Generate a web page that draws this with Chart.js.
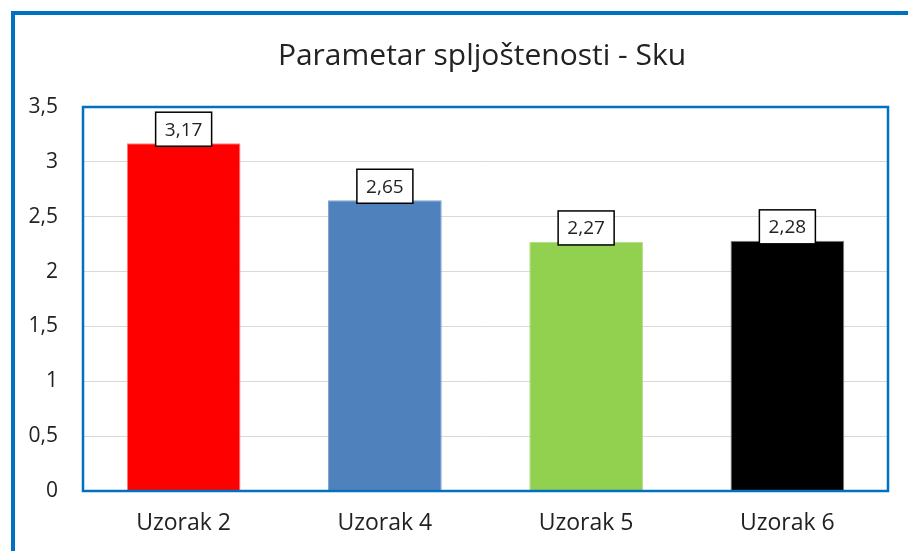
<!DOCTYPE html>
<html>
<head>
<meta charset="utf-8">
<script src="https://cdn.jsdelivr.net/npm/chart.js@4/dist/chart.umd.min.js"></script>
<style>
html,body{margin:0;padding:0;background:#fff;}
#wrap{width:908px;height:551px;position:relative;}
</style>
</head>
<body>
<div id="wrap"><canvas id="c" width="908" height="551"></canvas></div>
<script>
const titleText = 'Parametar spljoštenosti - Sku';
const categories = ['Uzorak 2', 'Uzorak 4', 'Uzorak 5', 'Uzorak 6'];
const values = [3.17, 2.65, 2.27, 2.28];
const barColors = ['#FF0000', '#4F81BD', '#92D050', '#000000'];
const barEdges = ['#FF8080', '#7FA3D1', '#B5DE8A', '#7F7F7F'];
const yTicks = [0, 0.5, 1, 1.5, 2, 2.5, 3, 3.5];

const FONT = "'Open Sans', 'Noto Sans', sans-serif";
const fmt = v => String(v).replace('.', ',');

const framePlugin = {
  id: 'frames',
  beforeDraw(chart) {
    const ctx = chart.ctx;
    ctx.save();
    ctx.fillStyle = '#fff';
    ctx.fillRect(0, 0, chart.width, chart.height);
    ctx.strokeStyle = '#0070C0';
    ctx.lineWidth = 4;
    ctx.strokeRect(13, 13, 1000, 1000);
    // title
    ctx.fillStyle = '#222';
    ctx.font = "30px " + FONT;
    ctx.textAlign = 'center';
    ctx.textBaseline = 'middle';
    ctx.fillText(titleText, 482, 56);
    ctx.restore();
  },
  afterDatasetsDraw(chart) {
    const ctx = chart.ctx;
    const a = chart.chartArea;
    ctx.save();
    ctx.strokeStyle = '#0070C0';
    ctx.lineWidth = 2.5;
    ctx.strokeRect(a.left, a.top, a.right - a.left, a.bottom - a.top);
    // data labels
    const meta = chart.getDatasetMeta(0);
    ctx.font = "19px " + FONT;
    ctx.textAlign = 'center';
    ctx.textBaseline = 'middle';
    meta.data.forEach((el, i) => {
      const txt = fmt(chart.data.datasets[0].data[i]);
      const w = 56, h = 34;
      const x = el.x - w / 2;
      const y = el.y + 3 - h;
      ctx.fillStyle = '#fff';
      ctx.fillRect(x, y, w, h);
      ctx.strokeStyle = '#000';
      ctx.lineWidth = 1.5;
      ctx.strokeRect(x, y, w, h);
      ctx.fillStyle = '#222';
      ctx.fillText(txt, el.x, y + h / 2 + 1);
    });
    ctx.restore();
  }
};

new Chart(document.getElementById('c'), {
  type: 'bar',
  data: {
    labels: categories,
    datasets: [{
      data: values,
      backgroundColor: barColors,
      borderColor: barEdges,
      borderWidth: 1,
      categoryPercentage: 1.0,
      barPercentage: 0.565
    }]
  },
  options: {
    responsive: false,
    animation: false,
    devicePixelRatio: 1,
    layout: { padding: { left: 0, right: 20, top: 107, bottom: 0 } },
    plugins: {
      legend: { display: false },
      tooltip: { enabled: false },
      title: { display: false }
    },
    scales: {
      x: {
        grid: { display: false, drawTicks: false },
        border: { display: false },
        ticks: { color: '#222', font: { family: FONT, size: 23 }, padding: 19 },
        afterFit(s) { s.height = 60; }
      },
      y: {
        min: 0, max: 3.5,
        afterBuildTicks(s) { s.ticks = yTicks.map(v => ({ value: v })); },
        grid: { color: '#D9D9D9', lineWidth: 1, drawTicks: false },
        border: { display: false },
        ticks: { color: '#222', font: { family: FONT, size: 21 }, padding: 25, callback: v => fmt(v) },
        afterFit(s) { s.width = 83; }
      }
    }
  },
  plugins: [framePlugin]
});
</script>
</body>
</html>
